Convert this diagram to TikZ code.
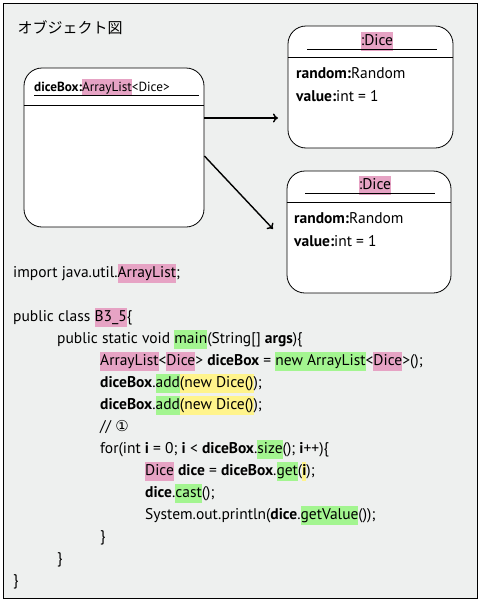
\documentclass[tikz,border=0pt]{standalone}
\usepackage{fontspec}
\setmainfont{PT Sans}
\newfontfamily\jpfont{Noto Sans CJK JP}
\newfontfamily\symfont{DejaVu Sans}
\usepackage{xcolor}
\usetikzlibrary{arrows.meta}

\definecolor{framegray}{HTML}{EEF0EF}
\definecolor{hlpink}{HTML}{E6A3C4}
\definecolor{hlgreen}{HTML}{A3F590}
\definecolor{hlyellow}{HTML}{FFF48C}

% highlighted piece of code
\newcommand{\hl}[2]{{\setlength{\fboxsep}{0pt}\colorbox{#1}{\strut #2}}}

\begin{document}
\begin{tikzpicture}[x=1pt, y=-1pt,
    objbox/.style={rectangle, draw, fill=white, rounded corners=18pt, line width=0.8pt},
    code/.style={anchor=base west, inner sep=0pt, font=\fontsize{15.5}{19}\selectfont},
    small/.style={anchor=base west, inner sep=0pt, font=\fontsize{13.2}{17}\selectfont},
    ref/.style={-{To[length=5pt,width=9pt]}, line width=1.4pt}]

    \useasboundingbox (0,0) rectangle (481,608);
    \draw[fill=framegray, line width=1pt] (3,3) rectangle (477,598);

    \node[anchor=west, font=\jpfont\fontsize{15}{18}\selectfont] (title) at (14,28) {オブジェクト図};

    % objects
    \node[objbox, minimum width=180pt, minimum height=159pt] (dicebox) at (114,147.5) {};
    \node[small] (diceboxname) at (34,91) {\textbf{diceBox:}\hl{hlpink}{ArrayList}<Dice>};
    \draw (34,95) -- (199,95);
    \draw (dicebox.west |- 0,105) -- (dicebox.east |- 0,105);

    \node[objbox, minimum width=165pt, minimum height=122pt] (dice1) at (370.5,87) {};
    \node[code, anchor=base] (dice1name) at (377,45) {\hl{hlpink}{:Dice}};
    \draw (307,49) -- (437,49);
    \draw (dice1.west |- 0,57) -- (dice1.east |- 0,57);
    \node[code] (dice1rnd) at (296,78) {\textbf{random:}Random};
    \node[code] (dice1val) at (296,101) {\textbf{value:}int = 1};

    \node[objbox, minimum width=164pt, minimum height=122pt] (dice2) at (369,232) {};
    \node[code, anchor=base] (dice2name) at (375,189) {\hl{hlpink}{:Dice}};
    \draw (305,193) -- (435,193);
    \draw (dice2.west |- 0,202) -- (dice2.east |- 0,202);
    \node[code] (dice2rnd) at (294,223) {\textbf{random:}Random};
    \node[code] (dice2val) at (294,246) {\textbf{value:}int = 1};

    \coordinate (ref1) at (dicebox.east |- 0,118);
    \coordinate (ref2) at (dicebox.east |- 0,156);
    \draw[ref] (ref1) -- (278,118);
    \draw[ref] (ref2) -- (273,229);

    % source code
    \node[code] (c1) at (13,277) {import java.util.\hl{hlpink}{ArrayList};};
    \node[code] (c2) at (13,321) {public class \hl{hlpink}{B3\_5}\{};
    \node[code] (c3) at (57,343) {public static void \hl{hlgreen}{main}(String[] \textbf{args})\{};
    \node[code] (c4) at (100,365) {\hl{hlpink}{ArrayList}<\hl{hlpink}{Dice}> \textbf{diceBox} = \hl{hlgreen}{new ArrayList}<\hl{hlpink}{Dice}>();};
    \node[code] (c5) at (100,387) {\textbf{diceBox}.\hl{hlgreen}{add}\hl{hlyellow}{(new Dice()});};
    \node[code] (c6) at (100,409) {\textbf{diceBox}.\hl{hlgreen}{add}\hl{hlyellow}{(new Dice()});};
    \node[code] (c7) at (100,431) {// {\symfont\fontsize{15}{18}\selectfont ①}};
    \node[code] (c8) at (100,453) {for(int \textbf{i} = 0; \textbf{i} < \textbf{diceBox}.\hl{hlgreen}{size}(); \textbf{i}++)\{};
    \node[code] (c9) at (145,475) {\hl{hlpink}{Dice} \textbf{dice} = \textbf{diceBox}.\hl{hlgreen}{get}(\hl{hlyellow}{\textbf{i}});};
    \node[code] (c10) at (145,497) {\textbf{dice}.\hl{hlgreen}{cast}();};
    \node[code] (c11) at (145,519) {System.out.println(\textbf{dice}.\hl{hlgreen}{getValue}());};
    \node[code] (c12) at (100,541) {\}};
    \node[code] (c13) at (57,563) {\}};
    \node[code] (c14) at (13,585) {\}};
\end{tikzpicture}
\end{document}
